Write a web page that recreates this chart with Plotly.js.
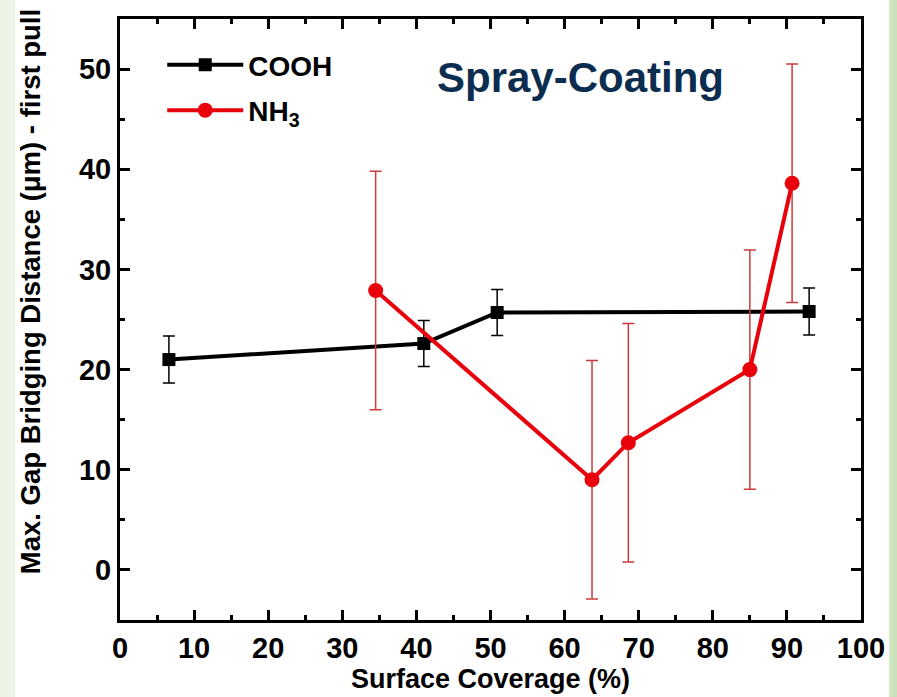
<!DOCTYPE html>
<html>
<head>
<meta charset="utf-8">
<script src="https://cdn.plot.ly/plotly-3.0.1.min.js"></script>
<style>
  html, body { margin: 0; padding: 0; }
  #chart {
    width: 897px; height: 697px;
    background: linear-gradient(to right, #edf4e4 0px, #eef5e6 15px, #ffffff 16px, #ffffff 888px, #cfe5c0 890px, #c8e1b6 897px);
  }
</style>
</head>
<body>
<div id="chart"></div>
<script>
// COOH series
const coohX = [6.6, 41.0, 50.9, 93.0];
const coohY = [21.0, 22.6, 25.7, 25.8];
const coohErr = [2.35, 2.3, 2.3, 2.35];

// NH3 series
const nh3X = [34.5, 63.7, 68.6, 85.0, 90.7];
const nh3Y = [27.9, 9.0, 12.7, 20.0, 38.6];
const nh3Err = [11.9, 11.9, 11.9, 11.95, 11.9];

const xTicks = [0, 10, 20, 30, 40, 50, 60, 70, 80, 90, 100];
const yTicks = [0, 10, 20, 30, 40, 50];

const FONT = 'Liberation Sans, Arial, sans-serif';

const traces = [
  {
    x: coohX, y: coohY, name: 'COOH', type: 'scatter', mode: 'lines+markers',
    legendgroup: 'a',
    line: { color: '#000000', width: 4 },
    marker: { symbol: 'square', size: 13, color: '#000000' },
    error_y: { type: 'data', array: coohErr, visible: true, color: '#000000', thickness: 1.5, width: 6 }
  },
  {
    x: nh3X, y: nh3Y, name: 'NH<sub>3</sub>', type: 'scatter', mode: 'lines+markers',
    legendgroup: 'b',
    line: { color: '#e8000b', width: 4 },
    marker: { symbol: 'circle', size: 15, color: '#e8000b' },
    error_y: { type: 'data', array: nh3Err, visible: true, color: '#cc3c3c', thickness: 1.5, width: 6 }
  }
];

const axisCommon = {
  showline: true, linecolor: '#000', linewidth: 3,
  mirror: 'ticks', ticks: 'inside', ticklen: 10, tickwidth: 3, tickcolor: '#000',
  showgrid: false, zeroline: false,
  tickfont: { family: FONT, size: 29, color: '#000', weight: 'bold' },
  minor: { ticks: 'inside', ticklen: 5, tickwidth: 3, tickcolor: '#000', dtick: 5, showgrid: false }
};

const layout = {
  width: 897, height: 697,
  paper_bgcolor: 'rgba(0,0,0,0)',
  plot_bgcolor: '#ffffff',
  margin: { l: 120, r: 36, t: 19, b: 77 },
  showlegend: true,
  legend: {
    x: 0.057, y: 0.965, xanchor: 'left', yanchor: 'top',
    bgcolor: 'rgba(0,0,0,0)',
    itemwidth: 76,
    font: { family: FONT, size: 28, color: '#000', weight: 'bold' },
    tracegroupgap: 6,
    traceorder: 'grouped'
  },
  xaxis: Object.assign({}, axisCommon, {
    range: [0, 100], tickvals: xTicks, ticktext: xTicks.map(String),
    title: { text: 'Surface Coverage (%)', font: { family: FONT, size: 27, color: '#000', weight: 'bold' }, standoff: 4 }
  }),
  yaxis: Object.assign({}, axisCommon, {
    range: [-5, 55], tickvals: yTicks, ticktext: yTicks.map(String)
  }),
  annotations: [
    {
      text: 'Spray-Coating', xref: 'paper', yref: 'paper',
      x: 0.621, y: 0.903, xanchor: 'center', yanchor: 'middle', showarrow: false,
      font: { family: FONT, size: 42, color: '#0b2d4f', weight: 'bold' }
    },
    {
      text: 'Max. Gap Bridging Distance (\u03bcm) - first pull', xref: 'paper', yref: 'paper',
      x: -0.1215, y: 0.547, xanchor: 'center', yanchor: 'middle', showarrow: false, textangle: -90,
      font: { family: FONT, size: 27.5, color: '#000', weight: 'bold' }
    }
  ]
};

Plotly.newPlot('chart', traces, layout, { displayModeBar: false, staticPlot: true });
</script>
</body>
</html>
